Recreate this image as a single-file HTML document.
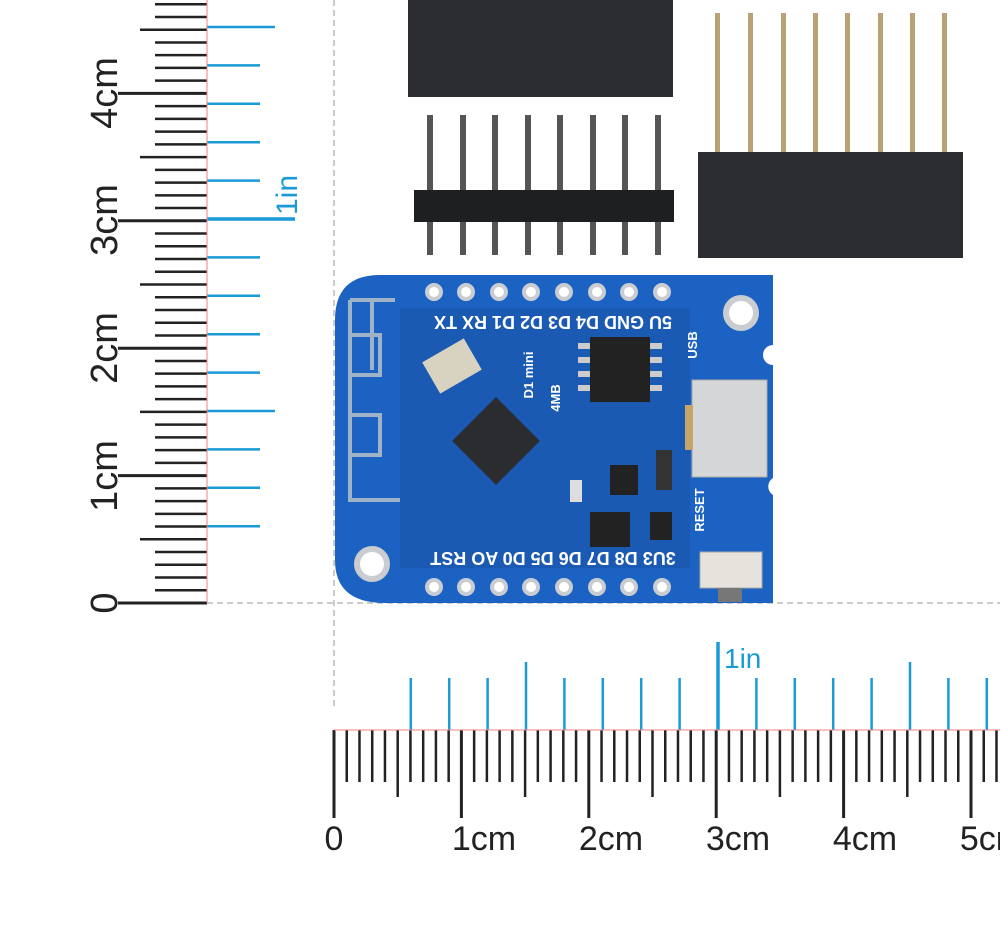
<!DOCTYPE html>
<html><head><meta charset="utf-8"><style>
html,body{margin:0;padding:0;background:#fff;}
svg{display:block}
</style></head><body>
<svg id="s" width="1000" height="935" viewBox="0 0 1000 935" xmlns="http://www.w3.org/2000/svg" font-family="Liberation Sans, sans-serif">
<rect width="1000" height="935" fill="#fff"/>
<line x1="334" y1="0" x2="334" y2="710" stroke="#bbb" stroke-width="1.5" stroke-dasharray="6,4"/>
<line x1="207" y1="603" x2="1000" y2="603" stroke="#bbb" stroke-width="1.5" stroke-dasharray="6,4"/>
<g id="ticks"></g>
<line x1="207" y1="0" x2="207" y2="603" stroke="#f08080" stroke-width="1"/>
<line x1="334" y1="730" x2="1000" y2="730" stroke="#f08080" stroke-width="1"/>
<g font-size="38" fill="#222">
<text transform="translate(117,603) rotate(-90)" text-anchor="middle">0</text>
<text transform="translate(117,476) rotate(-90)" text-anchor="middle">1cm</text>
<text transform="translate(117,348) rotate(-90)" text-anchor="middle">2cm</text>
<text transform="translate(117,220) rotate(-90)" text-anchor="middle">3cm</text>
<text transform="translate(117,93) rotate(-90)" text-anchor="middle">4cm</text>
</g>
<text transform="translate(297,195) rotate(-90)" text-anchor="middle" font-size="30" fill="#1a9ad6">1in</text>
<g font-size="34" fill="#222" text-anchor="middle">
<text x="334" y="850">0</text>
<text x="484" y="850">1cm</text>
<text x="611" y="850">2cm</text>
<text x="738" y="850">3cm</text>
<text x="865" y="850">4cm</text>
<text x="992" y="850">5cm</text>
</g>
<text x="724" y="668" font-size="28" fill="#1a9ad6">1in</text>

<rect x="408" y="0" width="265" height="97" fill="#2b2d30"/>
<g fill="#b8a276">
<rect x="715" y="13" width="5" height="142"/><rect x="748" y="13" width="5" height="142"/><rect x="781" y="13" width="5" height="142"/><rect x="813" y="13" width="5" height="142"/><rect x="845" y="13" width="5" height="142"/><rect x="878" y="13" width="5" height="142"/><rect x="910" y="13" width="5" height="142"/><rect x="942" y="13" width="5" height="142"/>
</g>
<rect x="698" y="152" width="265" height="106" fill="#2b2d30"/>
<g fill="#555">
<rect x="427" y="115" width="6" height="140"/><rect x="460" y="115" width="6" height="140"/><rect x="492" y="115" width="6" height="140"/><rect x="525" y="115" width="6" height="140"/><rect x="557" y="115" width="6" height="140"/><rect x="590" y="115" width="6" height="140"/><rect x="622" y="115" width="6" height="140"/><rect x="655" y="115" width="6" height="140"/>
</g>
<rect x="414" y="190" width="260" height="32" fill="#1e1f21"/>

<path d="M380,275 L773,275 L773,345 A10,10 0 0 0 773,365 L773,478 A10,10 0 0 0 773,495 L773,603 L385,603 Q335,603 335,560 L335,320 Q335,275 380,275 Z" fill="#1c62c2"/>
<rect x="400" y="308" width="290" height="260" fill="#1a55a8" opacity="0.6"/>
<path d="M350,300 V500 H400 M350,335 H380 V375 H350 M350,415 H380 V455 H350 M372,300 V370 M350,300 H395" fill="none" stroke="#9eb2c8" stroke-width="4"/>
<g fill="#fff" stroke="#c9ccd1" stroke-width="4">
<circle cx="434" cy="292" r="7"/><circle cx="466" cy="292" r="7"/><circle cx="499" cy="292" r="7"/><circle cx="531" cy="292" r="7"/><circle cx="564" cy="292" r="7"/><circle cx="597" cy="292" r="7"/><circle cx="629" cy="292" r="7"/><circle cx="662" cy="292" r="7"/>
<circle cx="434" cy="587" r="7"/><circle cx="466" cy="587" r="7"/><circle cx="499" cy="587" r="7"/><circle cx="531" cy="587" r="7"/><circle cx="564" cy="587" r="7"/><circle cx="597" cy="587" r="7"/><circle cx="629" cy="587" r="7"/><circle cx="662" cy="587" r="7"/>
<circle cx="741" cy="313" r="15" stroke-width="6"/><circle cx="372" cy="564" r="15" stroke-width="6"/>
</g>
<g fill="#fff" font-size="18" font-weight="bold">
<text transform="translate(553,316) rotate(180)" text-anchor="middle">5U GND D4 D3 D2 D1 RX TX</text>
<text transform="translate(553,552) rotate(180)" text-anchor="middle">3U3 D8 D7 D6 D5 D0 AO RST</text>
</g>
<g fill="#fff" font-size="13" font-weight="bold">
<text transform="translate(697,345) rotate(-90)" text-anchor="middle">USB</text>
<text transform="translate(704,510) rotate(-90)" text-anchor="middle">RESET</text>
<text transform="translate(533,375) rotate(-90)" text-anchor="middle">D1 mini</text>
<text transform="translate(560,398) rotate(-90)" text-anchor="middle">4MB</text>
</g>
<rect x="590" y="337" width="60" height="65" fill="#222"/>
<g fill="#ccc"><rect x="578" y="343" width="12" height="6"/><rect x="578" y="357" width="12" height="6"/><rect x="578" y="371" width="12" height="6"/><rect x="578" y="385" width="12" height="6"/>
<rect x="650" y="343" width="12" height="6"/><rect x="650" y="357" width="12" height="6"/><rect x="650" y="371" width="12" height="6"/><rect x="650" y="385" width="12" height="6"/></g>
<rect x="465" y="410" width="62" height="62" fill="#2a2c30" transform="rotate(45 496 441)"/>
<rect x="428" y="348" width="48" height="36" fill="#d8d2c0" transform="rotate(-30 452 366)"/>
<rect x="610" y="465" width="28" height="30" fill="#222"/>
<rect x="590" y="512" width="40" height="35" fill="#222"/>
<rect x="656" y="450" width="16" height="40" fill="#333"/>
<rect x="650" y="512" width="22" height="28" fill="#222"/>
<rect x="570" y="480" width="12" height="22" fill="#ddd"/>
<rect x="692" y="380" width="75" height="97" fill="#d5d6d8" stroke="#aaa"/>
<rect x="685" y="405" width="8" height="45" fill="#c9a36a"/>
<rect x="700" y="552" width="62" height="36" fill="#e6e3dc" stroke="#aaa"/>
<rect x="718" y="588" width="24" height="14" fill="#777"/>
</svg>
<script>
(function(){
var g=document.getElementById('ticks'),ns='http://www.w3.org/2000/svg';
function L(x1,y1,x2,y2,c,w){var l=document.createElementNS(ns,'line');l.setAttribute('x1',x1);l.setAttribute('y1',y1);l.setAttribute('x2',x2);l.setAttribute('y2',y2);l.setAttribute('stroke',c);l.setAttribute('stroke-width',w);g.appendChild(l);}
var mm=12.74;
for(var n=0;n<=47;n++){var y=603-n*mm;var x1=n%10==0?118:(n%5==0?140:155);L(x1,y,207,y,'#222',n%10==0?3:2.5);}
for(var n=0;n<=52;n++){var x=334+n*mm;var y2=n%10==0?818:(n%5==0?797:782);L(x,730,x,y2,'#222',n%10==0?3:2.5);}
var ti=38.4;
for(var k=2;k<=16;k++){var y=603-k*ti;var x2=k==10?295:(k%5==0?275:260);L(207,y,x2,y,'#1a9ad6',k==10?3.5:2.5);}
for(var k=2;k<=17;k++){var x=334+k*ti;if(x>1000)break;var yt=k==10?642:(k%5==0?662:678);L(x,730,x,yt,'#1a9ad6',k==10?3.5:2.5);}
})();
</script>
</body></html>
